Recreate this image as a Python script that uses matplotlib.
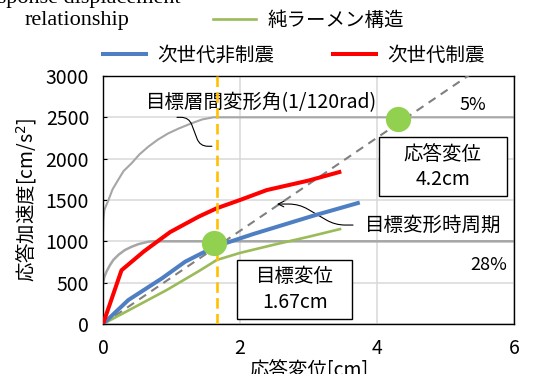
import matplotlib
matplotlib.use("Agg")
import matplotlib.pyplot as plt
from matplotlib.patches import Rectangle

plt.rcParams['font.family'] = ['Noto Sans CJK JP', 'DejaVu Sans']

# demand spectra (5% / 28% damping)
spec5_x = [0.0, 0.005, 0.02, 0.08, 0.14, 0.22, 0.3, 0.42, 0.53, 0.66, 0.8, 0.95, 1.12, 1.29, 1.45, 1.61, 6.0]
spec5_y = [1100, 1258, 1380, 1500, 1630, 1741, 1850, 1947, 2050, 2144, 2230, 2305, 2370, 2427, 2475, 2500, 2500]
spec28_x = [0.0, 0.005, 0.02, 0.05, 0.1, 0.15, 0.23, 0.32, 0.42, 0.52, 0.66, 0.72, 6.0]
spec28_y = [480, 512, 570, 632, 710, 774, 840, 895, 935, 967, 995, 1000, 1000]

# capacity curves
rahmen_x = [0.0, 0.93, 1.4, 1.66, 2.0, 2.5, 3.0, 3.46]
rahmen_y = [0, 411, 640, 774, 860, 960, 1055, 1148]
hiseishin_x = [0.0, 0.37, 0.86, 1.2, 1.44, 1.67, 2.2, 3.07, 3.72]
hiseishin_y = [0, 290, 552, 754, 855, 945, 1090, 1310, 1463]
seishin_x = [0.0, 0.27, 0.6, 0.98, 1.4, 1.66, 2.0, 2.39, 3.0, 3.45]
seishin_y = [0, 650, 880, 1112, 1300, 1400, 1500, 1620, 1735, 1838]

# equivalent-period line, target drift, performance points
period_x = [0.0, 6.0]
period_y = [0, 3380]
target_disp = 1.67
points_x = [1.62, 4.3]
points_y = [975, 2480]

fig = plt.figure(figsize=(5.36, 3.74), dpi=100)
ax = fig.add_axes([103 / 536, 50 / 374, 411 / 536, 248 / 374])

ax.plot(spec5_x, spec5_y, color='#A6A6A6', lw=1.5, zorder=2)
ax.plot(spec28_x, spec28_y, color='#A6A6A6', lw=1.8, zorder=2)
ax.plot(period_x, period_y, color='#808080', lw=1.5, ls=(0, (4, 3)), zorder=3)
ax.plot(rahmen_x, rahmen_y, color='#9BBB59', lw=1.9, zorder=4, label='純ラーメン構造')
ax.plot(hiseishin_x, hiseishin_y, color='#4F7FC3', lw=2.9, zorder=4, label='次世代非制震')
ax.plot(seishin_x, seishin_y, color='#FF0000', lw=2.9, zorder=4, label='次世代制震')
ax.axvline(target_disp, color='#FFC000', lw=1.9, ls=(0, (4, 2)), zorder=5)
ax.scatter(points_x, points_y, s=330, color='#92D050', zorder=6, linewidths=0)

ax.set_xlim(0, 6)
ax.set_ylim(0, 3000)
ax.set_xticks([0, 2, 4, 6])
ax.set_yticks(range(0, 3001, 500))
ax.grid(True, color='#D9D9D9', lw=1.1, zorder=0)
ax.set_axisbelow(True)
ax.tick_params(axis='y', direction='in', length=3, labelsize=14, pad=10)
ax.tick_params(axis='x', length=0, labelsize=14, pad=10)
for s in ax.spines.values():
    s.set_linewidth(1.0)
ax.set_xlabel('応答変位[cm]', fontsize=14, labelpad=1)
ax.set_ylabel('応答加速度[cm/s$^2$]', fontsize=14, labelpad=5)

# annotations
ax.text(2.32, 2672, '目標層間変形角(1/120rad)', fontsize=14, ha='center', va='center')
ax.annotate('', xy=(1.59, 2150), xytext=(1.08, 2500),
            arrowprops=dict(arrowstyle='-', color='black', lw=0.8, shrinkA=0, shrinkB=0,
                            connectionstyle='arc,angleA=0,angleB=180,armA=12,armB=12,rad=8'))
ax.text(4.82, 1197, '目標変形時周期', fontsize=14, ha='center', va='center')
ax.annotate('', xy=(2.54, 1451), xytext=(3.65, 1197),
            arrowprops=dict(arrowstyle='->', color='black', lw=0.8, shrinkA=0, shrinkB=0,
                            connectionstyle='arc,angleA=180,angleB=0,armA=18,armB=22,rad=10'))
ax.text(5.4, 2648, '5%', fontsize=13, ha='center', va='center')
ax.text(5.63, 713, '28%', fontsize=13, ha='center', va='center')

ax.add_patch(Rectangle((4.03, 1548), 1.87, 713, facecolor='white', edgecolor='black', lw=1.0, zorder=7))
ax.text(4.96, 1898, '応答変位\n4.2cm', fontsize=14, ha='center', va='center', linespacing=1.3, zorder=8)
ax.add_patch(Rectangle((1.96, 60), 1.68, 714, facecolor='white', edgecolor='black', lw=1.0, zorder=7))
ax.text(2.80, 417, '目標変位\n1.67cm', fontsize=14, ha='center', va='center', linespacing=1.3, zorder=8)

# legend entries placed like the original
handles, labels = ax.get_legend_handles_labels()
legend_pos = [(213, 20), (103, 55), (333, 55)]
for h, l, (px, py) in zip(handles, labels, legend_pos):
    fig.legend([h], [l], loc='center left', bbox_to_anchor=(px / 536, 1 - py / 374),
               frameon=False, fontsize=14, handlelength=2.2, handletextpad=0.6,
               borderpad=0, borderaxespad=0)

fig.text(77 / 536, 1 - 3 / 374, 'Response displacement', family='Liberation Serif',
         fontsize=16, ha='center', va='baseline')
fig.text(77 / 536, 1 - 25 / 374, 'relationship', family='Liberation Serif',
         fontsize=16, ha='center', va='baseline')

fig.savefig('out.png', dpi=100)
